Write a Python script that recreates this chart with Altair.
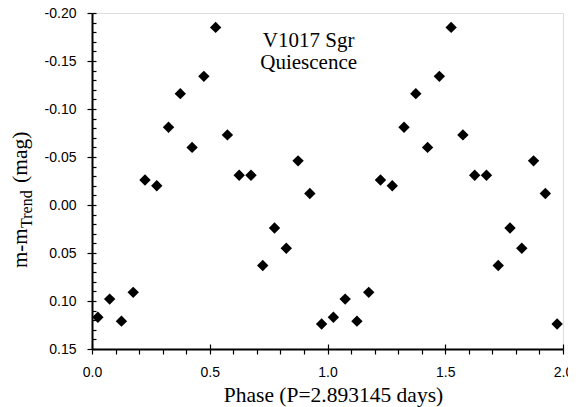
import altair as alt
import pandas as pd

# Phase-folded light curve values (two cycles shown)
phase = [0.025, 0.075, 0.125, 0.175, 0.225, 0.275, 0.325, 0.375, 0.425, 0.475,
         0.525, 0.575, 0.625, 0.675, 0.725, 0.775, 0.825, 0.875, 0.925, 0.975,
         1.025, 1.075, 1.125, 1.175, 1.225, 1.275, 1.325, 1.375, 1.425, 1.475,
         1.525, 1.575, 1.625, 1.675, 1.725, 1.775, 1.825, 1.875, 1.925, 1.975]
mag = [0.117, 0.098, 0.121, 0.091, -0.026, -0.020, -0.081, -0.116, -0.060, -0.134,
       -0.185, -0.073, -0.031, -0.031, 0.063, 0.024, 0.045, -0.046, -0.012, 0.124,
       0.117, 0.098, 0.121, 0.091, -0.026, -0.020, -0.081, -0.116, -0.060, -0.134,
       -0.185, -0.073, -0.031, -0.031, 0.063, 0.024, 0.045, -0.046, -0.012, 0.124]

x_major = [0.0, 0.5, 1.0, 1.5, 2.0]
x_minor = [0.0, 0.1, 0.2, 0.3, 0.4, 0.5, 0.6, 0.7, 0.8, 0.9, 1.0,
           1.1, 1.2, 1.3, 1.4, 1.5, 1.6, 1.7, 1.8, 1.9, 2.0]
y_major = [-0.20, -0.15, -0.10, -0.05, 0.00, 0.05, 0.10, 0.15]
y_minor = [round(-0.20 + 0.01 * i, 2) for i in range(36)]

ann_text = ["V1017 Sgr", "Quiescence"]
ann_x = [0.92, 0.92]
ann_y = [-0.1646, -0.1420]

df = pd.DataFrame({"phase": phase, "mag": mag})
ann = pd.DataFrame({"t": ann_text, "x": ann_x, "y": ann_y})

W, H = 471, 336
xscale = alt.Scale(domain=[0, 2.0], nice=False, zero=False)
yscale = alt.Scale(domain=[-0.20, 0.15], reverse=True, nice=False, zero=False)

SANS = "Liberation Sans"
SERIF = "Liberation Serif"

points = alt.Chart(df).mark_point(
    shape="diamond", filled=True, color="black", size=130, opacity=1
).encode(
    x=alt.X("phase:Q", scale=xscale, axis=alt.Axis(
        orient="bottom", values=x_minor, tickSize=5, tickColor="black", tickWidth=1.2,
        labelExpr="datum.value % 0.5 == 0 ? format(datum.value, '.1f') : ''",
        labelFont=SANS, labelFontSize=14, labelColor="black", labelPadding=11,
        labelFlush=False, labelOverlap=False,
        domainColor="black", domainWidth=2, grid=False,
        title="Phase (P=2.893145 days)", titleFont=SERIF, titleFontSize=21.5,
        titleFontWeight="normal", titleColor="black", titleY=52, titleX=241,
        titleBaseline="alphabetic")),
    y=alt.Y("mag:Q", scale=yscale, axis=alt.Axis(
        orient="left", values=y_major, tickSize=5, tickColor="black", tickWidth=1.2,
        labelExpr="replace(format(datum.value, '.2f'), '\u2212', '-')",
        labelFont=SANS, labelFontSize=14, labelColor="black", labelPadding=11,
        labelFlush=False, labelOverlap=False,
        domainColor="black", domainWidth=2, grid=False, title=None)),
)

inner = alt.Chart(df).mark_point(opacity=0).encode(
    x=alt.X("phase:Q", scale=xscale, axis=alt.Axis(
        orient="top", offset=-H, values=x_major, tickSize=5, tickColor="black",
        tickWidth=1.2, labels=False, domain=False, grid=False, title=None)),
    y=alt.Y("mag:Q", scale=yscale, axis=alt.Axis(
        orient="right", offset=-W, values=y_minor, tickSize=4, tickColor="black",
        tickWidth=1.2, labels=False, domain=False, grid=False, title=None)),
)

annot = alt.Chart(ann).mark_text(
    font=SERIF, fontSize=21, color="black", align="center", baseline="alphabetic"
).encode(
    x=alt.X("x:Q", scale=xscale, axis=None),
    y=alt.Y("y:Q", scale=yscale, axis=None),
    text="t:N",
)

# y-axis title with subscript, built from text pieces
one = pd.DataFrame({"a": [0]})
t1 = alt.Chart(one).mark_text(font=SERIF, fontSize=21, color="black", angle=270,
                              align="left", baseline="alphabetic").encode(
    x=alt.value(-65), y=alt.value(255), text=alt.value("m-m"))
t2 = alt.Chart(one).mark_text(font=SERIF, fontSize=16, color="black", angle=270,
                              align="left", baseline="alphabetic").encode(
    x=alt.value(-60), y=alt.value(215), text=alt.value("Trend"))
t3 = alt.Chart(one).mark_text(font=SERIF, fontSize=21.5, color="black", angle=270,
                              align="left", baseline="alphabetic").encode(
    x=alt.value(-65), y=alt.value(170), text=alt.value("(mag)"))

chart = alt.layer(points, inner, annot, t1, t2, t3).resolve_axis(
    x="independent", y="independent"
).resolve_scale(x="shared", y="shared").properties(
    width=W, height=H,
    autosize=alt.AutoSizeParams(type="none"),
    padding={"left": 84, "top": 5, "right": 5, "bottom": 58},
).configure_view(stroke="black", strokeWidth=2).configure(background="white")

chart.save("out.html", embed_options={"renderer": "svg", "actions": False})
